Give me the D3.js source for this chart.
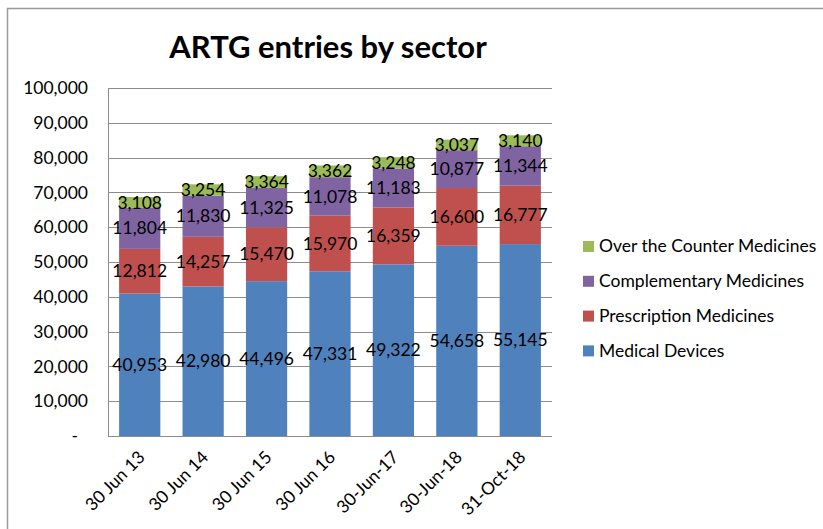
<!DOCTYPE html>
<html><head><meta charset="utf-8">
<script src="https://cdn.jsdelivr.net/npm/d3@7"></script>
<style>body{margin:0;background:#fff}svg{display:block}</style>
</head><body>
<svg id="c" width="823" height="529"></svg>
<script>
const categories = ["30 Jun 13","30 Jun 14","30 Jun 15","30 Jun 16","30-Jun-17","30-Jun-18","31-Oct-18"];
const medicalDevices = [40953,42980,44496,47331,49322,54658,55145];
const prescription = [12812,14257,15470,15970,16359,16600,16777];
const complementary = [11804,11830,11325,11078,11183,10877,11344];
const otc = [3108,3254,3364,3362,3248,3037,3140];
const seriesNames = ["Medical Devices","Prescription Medicines","Complementary Medicines","Over the Counter Medicines"];
const colors = ["#4F81BD","#C0504D","#8064A2","#9BBB59"];
const yTicks = [0,10000,20000,30000,40000,50000,60000,70000,80000,90000,100000];

const font = "Lato, 'Open Sans', sans-serif";
const svg = d3.select("#c");
// outer frame
svg.append("path").attr("d","M7.5,529 V8.5 H823").attr("fill","none").attr("stroke","#999").attr("stroke-width",1.5);

const m = {l:108, r:552, t:88, b:436};
const x = d3.scaleBand().domain(categories).range([m.l,m.r]).paddingInner(0.35).paddingOuter(0.175);
const y = d3.scaleLinear().domain([0,100000]).range([m.b,m.t]);

// gridlines
svg.append("g").selectAll("line").data(yTicks.slice(1)).join("line")
  .attr("x1",m.l).attr("x2",m.r).attr("y1",d=>Math.round(y(d))+0.5).attr("y2",d=>Math.round(y(d))+0.5)
  .attr("stroke","#8c8c8c").attr("stroke-width",1);

// y axis
const yAxis = d3.axisLeft(y).tickValues(yTicks).tickSize(0).tickPadding(20)
  .tickFormat(d=>d===0?"-":d3.format(",")(d));
const ya = svg.append("g").attr("transform",`translate(${m.l},0)`).call(yAxis);
ya.select(".domain").attr("stroke","#8c8c8c");
ya.selectAll("text").attr("font-family",font).attr("font-size",17.5).attr("fill","#000");
ya.selectAll(".tick").filter(d=>d===0).select("text").attr("x",-30);

// stacked data
const rows = categories.map((c,i)=>({cat:c, "Medical Devices":medicalDevices[i], "Prescription Medicines":prescription[i], "Complementary Medicines":complementary[i], "Over the Counter Medicines":otc[i]}));
const stack = d3.stack().keys(seriesNames)(rows);

const g = svg.append("g");
stack.forEach((s,si)=>{
  g.append("g").selectAll("rect").data(s).join("rect")
    .attr("x",d=>x(d.data.cat)).attr("width",x.bandwidth())
    .attr("y",d=>y(d[1])).attr("height",d=>y(d[0])-y(d[1]))
    .attr("fill",colors[si]);
});
// labels
stack.forEach((s,si)=>{
  g.append("g").selectAll("text").data(s).join("text")
    .attr("x",d=>x(d.data.cat)+x.bandwidth()/2)
    .attr("y",d=>(y(d[0])+y(d[1]))/2)
    .attr("dy","0.35em").attr("text-anchor","middle")
    .attr("font-family",font).attr("font-size",17.5).attr("fill","#000")
    .text(d=>d3.format(",")(d[1]-d[0]));
});

// x axis
svg.append("line").attr("x1",m.l).attr("x2",m.r).attr("y1",m.b+0.5).attr("y2",m.b+0.5).attr("stroke","#8c8c8c");
svg.append("g").selectAll("text").data(categories).join("text")
  .attr("transform",d=>`translate(${x(d)+x.bandwidth()/2+2},${m.b+18}) rotate(-45)`)
  .attr("text-anchor","end").attr("dy","0.35em")
  .attr("font-family",font).attr("font-size",17.5).attr("fill","#000")
  .text(d=>d);

// title
svg.append("text").attr("x",328).attr("y",58).attr("text-anchor","middle")
  .attr("font-family",font).attr("font-weight","bold").attr("font-size",31).attr("fill","#000")
  .text("ARTG entries by sector");

// legend
const legendOrder = [3,2,1,0];
const lg = svg.append("g").selectAll("g").data(legendOrder).join("g")
  .attr("transform",(d,i)=>`translate(583,${246+i*34.8})`);
lg.append("rect").attr("x",0).attr("y",-5).attr("width",11).attr("height",11).attr("fill",d=>colors[d]);
lg.append("text").attr("x",16).attr("dy","0.35em").attr("font-family",font).attr("font-size",17.5).attr("fill","#000")
  .text(d=>seriesNames[d]);
</script>
</body></html>
